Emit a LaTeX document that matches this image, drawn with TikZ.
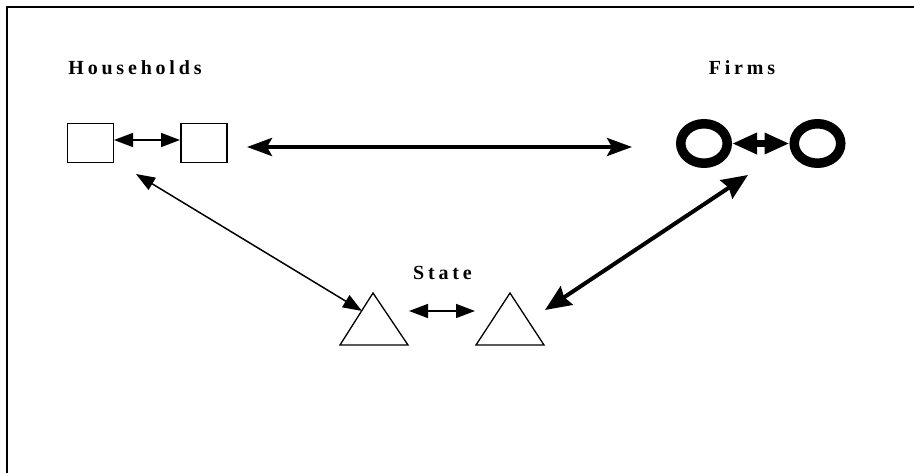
\documentclass[tikz,border=0pt]{standalone}
\usepackage{fontspec}
\setmainfont{Liberation Serif}
\usetikzlibrary{arrows.meta,shapes.geometric}
\begin{document}
\begin{tikzpicture}[x=1pt,y=-1pt,
  lbl/.style={anchor=base,inner sep=0pt,font=\fontsize{20}{20}\selectfont\bfseries\addfontfeature{LetterSpace=19}},
  sq/.style={draw,line width=1.3pt,minimum width=46pt,minimum height=39pt,inner sep=0pt},
  ring/.style={draw,ellipse,line width=9.5pt,minimum width=46.5pt,minimum height=39.5pt,inner sep=0pt},
  tri/.style={draw,line width=1.3pt,line join=miter},
  thin/.style={line width=1.5pt,{Triangle[length=19pt,width=14pt]}-{Triangle[length=19pt,width=14pt]}},
  thick/.style={line width=4pt,{Stealth[length=25pt,width=18pt,inset=5pt]}-{Stealth[length=25pt,width=18pt,inset=5pt]}},
  diagthick/.style={line width=4pt,{Stealth[length=26pt,width=22pt,inset=3pt]}-{Stealth[length=26pt,width=22pt,inset=3pt]}},
  firm/.style={line width=7pt,{Triangle[length=25pt,width=20pt]}-{Triangle[length=25pt,width=20pt]}},
  frame/.style={line width=2pt}]
\useasboundingbox (0,0) rectangle (914,473);
\draw[frame] (7,473) -- (7,7) -- (914,7);
% labels
\node[lbl] (hl) at (135,74.7) {Households};
\node[lbl] (fl) at (742,74.7) {Firms};
\node[lbl] (sl) at (442.5,280) {State};
% households
\node[sq] (h1) at (90.5,143) {};
\node[sq] (h2) at (204,143) {};
% firms
\node[ring] (f1) at (704,143.5) {};
\node[ring] (f2) at (817.5,143.5) {};
% state triangles
\coordinate (t1a) at (373,293); \coordinate (t1b) at (340,345); \coordinate (t1c) at (408,345);
\coordinate (t2a) at (510,293); \coordinate (t2b) at (476,345); \coordinate (t2c) at (544,345);
\draw[tri] (t1a) -- (t1b) -- (t1c) -- cycle;
\draw[tri] (t2a) -- (t2b) -- (t2c) -- cycle;
% connector end points
\coordinate (hx1) at (114,140); \coordinate (hx2) at (180,140);
\coordinate (hf1) at (247,147); \coordinate (hf2) at (632,147);
\coordinate (hs1) at (136,174); \coordinate (hs2) at (362,311);
\coordinate (ss1) at (409,311); \coordinate (ss2) at (475,311);
\coordinate (fs1) at (748,175); \coordinate (fs2) at (545,310);
\draw[thin] (hx1) -- (hx2);
\draw[thick] (hf1) -- (hf2);
\draw[thin] (hs1) -- (hs2);
\draw[thin] (ss1) -- (ss2);
\draw[diagthick] (fs1) -- (fs2);
\draw[firm] (f1.east) -- (f2.west);
\end{tikzpicture}
\end{document}
